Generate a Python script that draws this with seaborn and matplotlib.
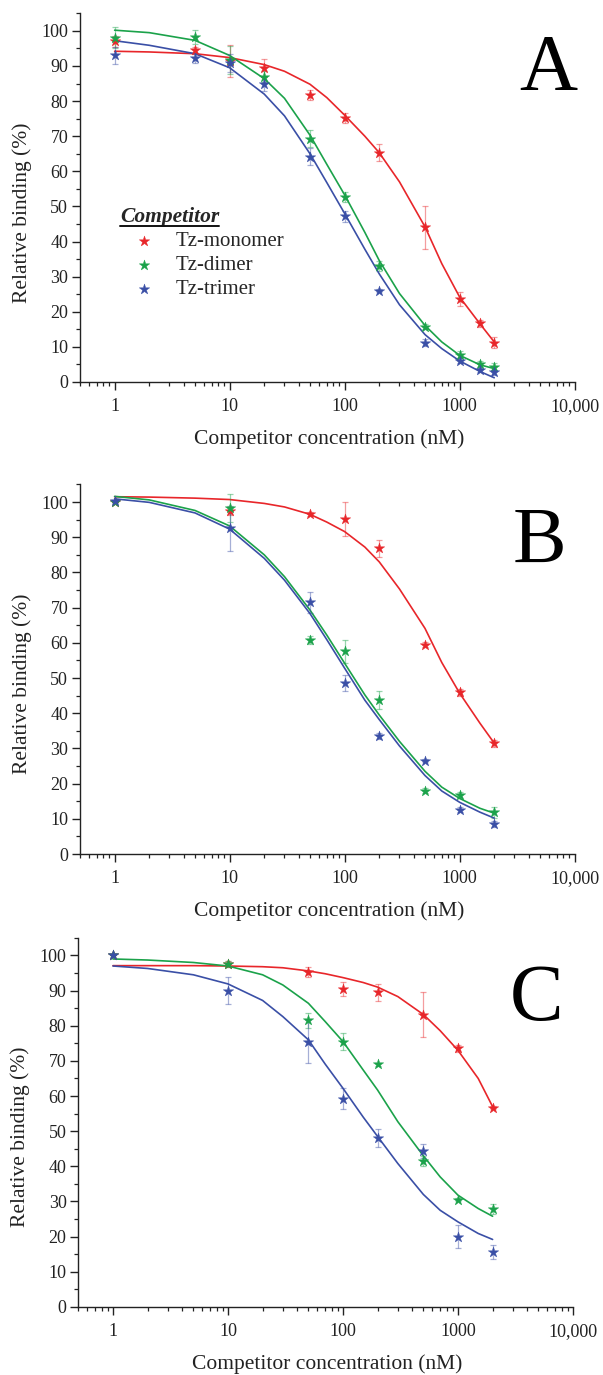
"""
Competitive binding curves for Tz-monomer, Tz-dimer and Tz-trimer (panels A-C).
"""
import matplotlib
matplotlib.use("Agg")
import matplotlib.pyplot as plt
from matplotlib.lines import Line2D
from matplotlib.ticker import MultipleLocator, LogLocator, NullFormatter
import seaborn as sns

# ---- measured points -------------------------------------------------------
A_CONC = [1, 5, 10, 20, 50, 100, 200, 500, 1000, 1500, 2000]
A_MONO = [97, 94.5, 91.5, 89.5, 81.8, 75.2, 65.3, 44, 23.5, 16.7, 11.2]
A_MONO_ERR = [1.5, 1, 4.5, 2.5, 1.5, 1.5, 2.5, 6, 2, 1, 1.5]
A_DI = [98, 98.2, 91.8, 87, 69.3, 52.7, 33, 15.8, 7.8, 5.2, 4.3]
A_DI_ERR = [3, 2, 4, 1.5, 2.5, 1.5, 1.5, 0.8, 1, 0.8, 1]
A_TRI = [93, 92.3, 90.8, 84.8, 64.2, 47.2, 26, 11.2, 6.1, 3.4, 2.7]
A_TRI_ERR = [2.5, 1.5, 2.5, 2, 2.5, 1.5, 0.5, 1, 0.8, 0.5, 0.8]

B_CONC = [1, 10, 50, 100, 200, 500, 1000, 2000]
B_MONO = [100, 97.5, 96.6, 95.2, 86.8, 59.5, 46, 31.5]
B_MONO_ERR = [0, 1.2, 0.5, 4.9, 2.4, 0.8, 1, 1]
B_DI = [100, 98.3, 60.8, 57.6, 43.7, 18, 16.7, 11.8]
B_DI_ERR = [0, 4, 1.2, 3.2, 2.5, 0.7, 0.8, 1.5]
B_TRI = [100.2, 92.5, 71.5, 48.5, 33.6, 26.5, 12.6, 8.6]
B_TRI_ERR = [0.5, 6.3, 3, 2.3, 0.8, 0.5, 0.8, 0.8]

C_CONC = [1, 10, 50, 100, 200, 500, 1000, 2000]
C_MONO = [100, 97.6, 95.3, 90.5, 89.5, 83.2, 73.6, 56.7]
C_MONO_ERR = [0, 0.8, 1.5, 2, 2.5, 6.3, 1, 0.5]
C_DI = [100, 97.6, 81.5, 75.5, 69, 41.5, 30.5, 27.8]
C_DI_ERR = [0, 0.8, 2, 2.5, 0.5, 1.5, 0.5, 1.5]
C_TRI = [100, 90, 75.5, 59.3, 48, 44.5, 20, 15.5]
C_TRI_ERR = [0.5, 3.8, 6, 3, 2.5, 2, 3.3, 2]

# ---- fitted curves --------------------------------------------------------
FIT_CONC = [1, 2, 5, 10, 20, 30, 50, 70, 100, 150, 200, 300, 500, 700, 1000, 1500, 2000]
A_MONO_FIT = [94.2, 94.0, 93.5, 92.4, 90.4, 88.5, 84.8, 81.0, 76.0, 70.0, 65.3, 57.0, 44.2, 33.7, 24.2, 16.6, 11.4]
A_DI_FIT = [100.2, 99.5, 97.3, 93.0, 86.4, 80.8, 70.3, 62.0, 53.3, 42.6, 34.6, 25.2, 16.1, 11.4, 7.6, 4.9, 3.8]
A_TRI_FIT = [97.2, 95.9, 93.5, 89.5, 82.0, 75.8, 65.0, 56.8, 48.0, 37.8, 30.8, 22.0, 13.5, 9.5, 6.0, 3.0, 1.2]
B_MONO_FIT = [101.5, 101.4, 101.1, 100.7, 99.6, 98.6, 96.5, 94.3, 91.6, 87.2, 83.0, 75.3, 64.1, 54.4, 45.7, 37.2, 31.5]
B_DI_FIT = [101.6, 100.6, 97.6, 93.2, 85.0, 78.8, 69.3, 62.2, 54.2, 45.2, 39.5, 32.0, 23.5, 19.0, 15.8, 13.0, 11.6]
B_TRI_FIT = [100.9, 99.9, 96.9, 92.3, 84.0, 77.8, 68.3, 60.9, 52.8, 43.7, 38.2, 30.7, 22.3, 17.9, 14.7, 11.9, 10.2]
C_MONO_FIT = [97.1, 97.1, 97.1, 97.0, 96.8, 96.5, 95.6, 94.8, 93.7, 92.3, 91.0, 88.3, 83.2, 78.6, 73.0, 65.0, 57.0]
C_DI_FIT = [99.0, 98.7, 98.0, 97.0, 94.5, 91.6, 86.4, 81.2, 75.5, 67.4, 61.7, 52.7, 43.0, 37.0, 31.8, 28.0, 25.8]
C_TRI_FIT = [97.0, 96.3, 94.5, 91.9, 87.2, 82.6, 76.0, 69.1, 62.2, 54.0, 48.5, 40.8, 32.0, 27.5, 24.2, 20.9, 19.2]

LABELS = ["Tz-monomer", "Tz-dimer", "Tz-trimer"]
COLORS = ["#e8262a", "#1ba24a", "#3a4fa6"]
XTICKS = [1, 10, 100, 1000, 10000]
XTICK_LABELS = ["1", "10", "100", "1000", "10,000"]

PANELS = [
    ("A", A_CONC, [A_MONO, A_DI, A_TRI], [A_MONO_ERR, A_DI_ERR, A_TRI_ERR],
     [A_MONO_FIT, A_DI_FIT, A_TRI_FIT]),
    ("B", B_CONC, [B_MONO, B_DI, B_TRI], [B_MONO_ERR, B_DI_ERR, B_TRI_ERR],
     [B_MONO_FIT, B_DI_FIT, B_TRI_FIT]),
    ("C", C_CONC, [C_MONO, C_DI, C_TRI], [C_MONO_ERR, C_DI_ERR, C_TRI_ERR],
     [C_MONO_FIT, C_DI_FIT, C_TRI_FIT]),
]

# axes rectangles in figure fractions
RECTS = [
    [0.1327, 0.7222, 0.8202, 0.2681],
    [0.1327, 0.3789, 0.8202, 0.2688],
    [0.1300, 0.0495, 0.8202, 0.2684],
]
LETTER_POS = [(0.946, 0.792), (0.928, 0.789), (0.926, 0.778)]


def setup_plotting():
    sns.set_theme(style="ticks")
    plt.rcParams["font.family"] = ["Liberation Serif", "DejaVu Serif"]
    plt.rcParams["axes.spines.top"] = False
    plt.rcParams["axes.spines.right"] = False


def draw_panel(ax, letter, conc, series, errors, fits, with_legend=False):
    for lab, col, y, err, fit in zip(LABELS, COLORS, series, errors, fits):
        sns.lineplot(x=FIT_CONC, y=fit, color=col, lw=1.2, ax=ax, zorder=2)
        ax.errorbar(conc, y, yerr=err, fmt="none", ecolor=col, alpha=0.45,
                    elinewidth=0.9, capsize=2.5, capthick=0.9, zorder=2)
        sns.scatterplot(x=conc, y=y, color=col, marker="*", s=62,
                        edgecolor=col, linewidth=0.3, ax=ax, zorder=3,
                        label=lab if with_legend else None)

    ax.set_xscale("log")
    ax.set_xlim(0.5, 10000)
    ax.set_ylim(0, 105)
    ax.set_xticks(XTICKS)
    ax.set_xticklabels(XTICK_LABELS)
    ax.xaxis.set_minor_locator(LogLocator(base=10, subs=range(2, 10), numticks=20))
    ax.xaxis.set_minor_formatter(NullFormatter())
    ax.yaxis.set_major_locator(MultipleLocator(10))
    ax.yaxis.set_minor_locator(MultipleLocator(5))

    for side in ("left", "bottom"):
        ax.spines[side].set_linewidth(1.0)
        ax.spines[side].set_color("#222222")
    ax.tick_params(which="major", direction="out", length=5.5, width=1.0,
                   color="#222222", labelsize=13, labelcolor="#222222", pad=3)
    ax.tick_params(axis="x", which="major", pad=6)
    ax.tick_params(which="minor", direction="out", length=3, width=0.9,
                   color="#222222")

    ax.set_xlabel("Competitor concentration (nM)", fontsize=15.5, color="#222222")
    ax.set_ylabel("Relative binding (%)", fontsize=15.5, color="#222222")
    ax.xaxis.set_label_coords(0.503, -0.128)
    ax.yaxis.set_label_coords(-0.098, 0.46)
    ax.grid(False)

    lx, ly = LETTER_POS["ABC".index(letter)]
    ax.text(lx, ly, letter, transform=ax.transAxes, fontsize=58,
            ha="center", va="baseline", color="black")


def main():
    setup_plotting()
    fig = plt.figure(figsize=(6.03, 13.75), dpi=100)

    legend = None
    for i, (letter, conc, series, errors, fits) in enumerate(PANELS):
        ax = fig.add_axes(RECTS[i])
        draw_panel(ax, letter, conc, series, errors, fits, with_legend=(i == 0))
        if i == 0:
            legend = ax.legend(
                loc="upper left", bbox_to_anchor=(0.081, 0.475), frameon=False,
                title="Competitor", alignment="left", fontsize=15,
                title_fontproperties={"size": 15.5, "weight": "bold",
                                      "style": "italic"},
                handlelength=2.3, handletextpad=0.35, labelspacing=0.22,
                borderpad=0, borderaxespad=0, scatterpoints=1, markerscale=1.0)
        else:
            if ax.get_legend() is not None:
                ax.get_legend().remove()

    # underline for the legend title
    fig.canvas.draw()
    bb = legend.get_title().get_window_extent(fig.canvas.get_renderer())
    bb = bb.transformed(fig.transFigure.inverted())
    fig.add_artist(Line2D([bb.x0, bb.x1], [bb.y0 + 0.0008, bb.y0 + 0.0008],
                          transform=fig.transFigure, color="#111111", lw=1.4))

    fig.savefig("out.png", dpi=100)
    plt.close(fig)


if __name__ == "__main__":
    main()
